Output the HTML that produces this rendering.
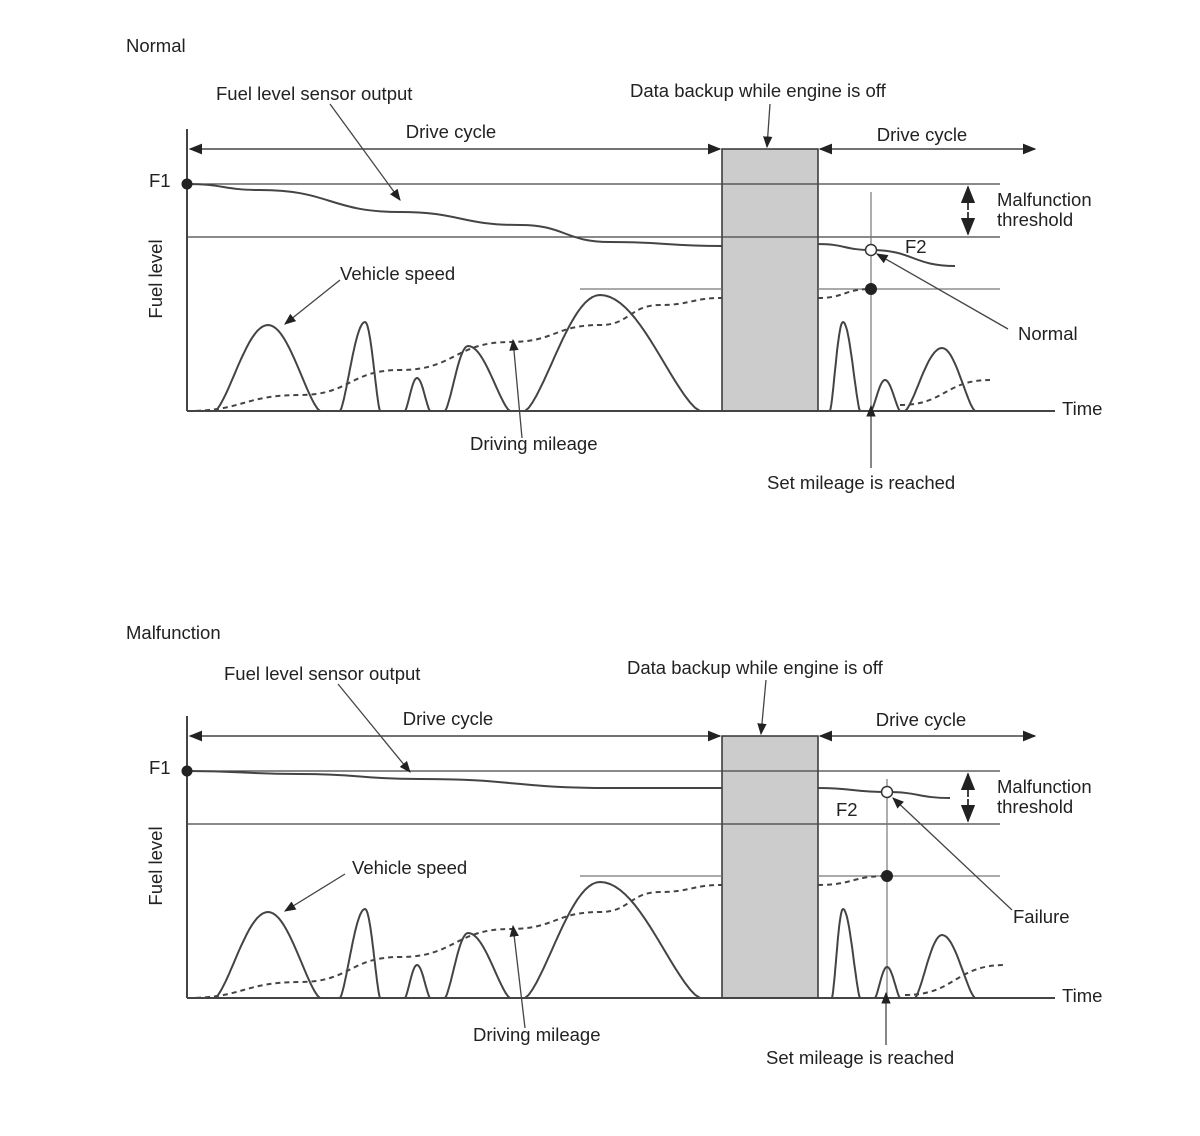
<!DOCTYPE html>
<html><head><meta charset="utf-8"><style>
body{margin:0;background:#fff}
svg text{font-family:"Liberation Sans",Arial,sans-serif;font-size:18.5px;fill:#222}
</style></head><body>
<svg id="chart" width="1200" height="1131" viewBox="0 0 1200 1131" xmlns="http://www.w3.org/2000/svg">
<defs><marker id="ah" viewBox="0 0 10 10" refX="9" refY="5" markerWidth="9" markerHeight="9" orient="auto-start-reverse"><path d="M0,1L10,5L0,9z" fill="#222"/></marker></defs>
</svg>
<script>
// time axis: offset from origin in px-units (0..868), level axis: px above baseline
const speedBumps = [[28,133,81,86],[153,193,178,89],[218,243,230,33],[258,323,281,65],[338,513,413,116]];
const speedAfterTop = [[643,673,656,89],[684,713,698,31],[718,788,755,63]];
const speedAfterBot = [[645,673,656,89],[688,713,700,31],[728,788,755,63]];
const mileageBefore = [[0,0],[113,16],[213,41],[323,69],[413,86],[473,106],[535,113]];
const mileageTop = [[631,113],[684,122]];
const mileageTopTail = [[713,6],[803,31]];
const mileageBot = [[631,113],[700,122]];
const mileageBotTail = [[718,3],[818,33]];
const fuelTop = [[0,227],[73,221],[213,199],[333,186],[423,169],[535,165]];
const fuelTopAfter = [[631,167],[684,161],[768,145]];
const fuelBot = [[0,227],[113,224],[233,219],[423,210],[535,210]];
const fuelBotAfter = [[631,210],[700,206],[763,200]];

const svg=document.getElementById('chart');
const NS='http://www.w3.org/2000/svg';
const X0=187;
function sx(t){return X0+t;}
function mk(tag,attrs,parent){const e=document.createElementNS(NS,tag);for(const k in attrs)e.setAttribute(k,attrs[k]);(parent||svg).appendChild(e);return e;}
function smooth(pts){let d='M'+pts[0][0]+','+pts[0][1];for(let i=1;i<pts.length;i++){const p0=pts[i-1],p1=pts[i];const mx=(p0[0]+p1[0])/2;d+=' C'+mx+','+p0[1]+' '+mx+','+p1[1]+' '+p1[0]+','+p1[1];}return d;}
function txt(x,y,s,name,anchor){const t=mk('text',{x:x,y:y,'text-anchor':anchor||'start'});t.textContent=s;


return t;}
function line(x1,y1,x2,y2,name,extra){const l=mk('line',Object.assign({x1:x1,y1:y1,x2:x2,y2:y2,stroke:'#444','stroke-width':1.5},extra||{}));


return l;}

function panel(base,cfg){
  const sy=v=>base-v;
  txt(126,base-359,cfg.title,cfg.id+'-title');
  const r=mk('rect',{x:sx(535),y:base-262,width:96,height:262,fill:'#ccc',stroke:'#333','stroke-width':1.5});
  
  
  line(X0,base-282,X0,base,cfg.id+'-y-axis',{'stroke-width':2});
  line(X0,base,1055,base,cfg.id+'-x-axis',{'stroke-width':2});
  line(X0,sy(227),1000,sy(227),cfg.id+'-f1-line',{'stroke-width':1.2});
  line(X0,sy(174),1000,sy(174),cfg.id+'-threshold-line',{'stroke-width':1.2});
  line(sx(393),sy(122),sx(535),sy(122),cfg.id+'-set-line-a',{'stroke-width':1.2,stroke:'#777'});
  line(sx(631),sy(122),1000,sy(122),cfg.id+'-set-line-b',{'stroke-width':1.2,stroke:'#777'});
  line(sx(cfg.vx),base-cfg.vtop,sx(cfg.vx),base,cfg.id+'-set-vertical',{'stroke-width':1.2,stroke:'#777'});
  line(X0+3,base-262,sx(535)-2,base-262,cfg.id+'-drive-cycle-arrow-1',{'marker-start':'url(#ah)','marker-end':'url(#ah)'});
  line(sx(631)+2,base-262,1035,base-262,cfg.id+'-drive-cycle-arrow-2',{'marker-start':'url(#ah)','marker-end':'url(#ah)'});
  line(968,sy(201),968,sy(224),cfg.id+'-thr-arrow-up',{'marker-end':'url(#ah)','stroke-width':2});
  line(968,sy(199),968,sy(177),cfg.id+'-thr-arrow-down',{'marker-end':'url(#ah)','stroke-width':2});
  const bumps=speedBumps.concat(cfg.after);
  bumps.forEach((b,i)=>{
    const [a,e,p,h]=b;
    let d='';
    for(let k=0;k<=40;k++){
      const u=k/40;
      const x=u<=0.5? a+(p-a)*u*2 : p+(e-p)*(u-0.5)*2;
      const y=h*Math.pow(Math.sin(Math.PI*u),1.4);
      d+=(k?'L':'M')+sx(x).toFixed(1)+','+sy(y).toFixed(1);
    }
    const pth=mk('path',{d:d,fill:'none',stroke:'#444','stroke-width':2,'stroke-linejoin':'round'});
    
    
  });
  const curves=[[mileageBefore,'mileage-1',true],[cfg.mil,'mileage-2',true],[cfg.milTail,'mileage-3',true],[cfg.fuel,'fuel-1',false],[cfg.fuelAfter,'fuel-2',false]];
  curves.forEach(c=>{
    const pts=c[0].map(p=>[sx(p[0]),sy(p[1])]);
    const o={d:smooth(pts),fill:'none',stroke:'#444','stroke-width':2};
    if(c[2])o['stroke-dasharray']='5,4';
    const pth=mk('path',o);
    
    
  });
  const f1=mk('circle',{cx:X0,cy:sy(227),r:5.5,fill:'#222'});
  
  
  const last=cfg.fuelAfter[1];
  const oc=mk('circle',{cx:sx(last[0]),cy:sy(last[1]),r:5.5,fill:'#fff',stroke:'#333','stroke-width':1.5});
  
  
  const ml=cfg.mil[1];
  const fc=mk('circle',{cx:sx(ml[0]),cy:sy(ml[1]),r:6,fill:'#222'});
  
  
  txt(149,base-224,'F1',cfg.id+'-f1-label');
  const yl=mk('text',{x:0,y:0,transform:'translate(162,'+(base-132)+') rotate(-90)','text-anchor':'middle'});
  yl.textContent='Fuel level';
  
  
  txt(1062,base+4,'Time',cfg.id+'-x-axis-title');
  txt(997,base-205,'Malfunction',cfg.id+'-thr-label-1');
  txt(997,base-185,'threshold',cfg.id+'-thr-label-2');
  cfg.labels.forEach(l=>txt(l[0],base+l[1],l[2],cfg.id+'-'+l[3],l[4]));
  cfg.ptrs.forEach((p,i)=>line(p[0],base+p[1],p[2],base+p[3],cfg.id+'-pointer-'+(i+1),{'marker-end':'url(#ah)','stroke-width':1.3}));
}
panel(411,{id:'normal',title:'Normal',vx:684,vtop:219,after:speedAfterTop,mil:mileageTop,milTail:mileageTopTail,fuel:fuelTop,fuelAfter:fuelTopAfter,
 labels:[[216,-311,'Fuel level sensor output','sensor-label'],[630,-314,'Data backup while engine is off','backup-label'],[451,-273,'Drive cycle','drive-cycle-1','middle'],[922,-270,'Drive cycle','drive-cycle-2','middle'],[905,-158,'F2','f2-label'],[340,-131,'Vehicle speed','speed-label'],[1018,-71,'Normal','result-label'],[470,39,'Driving mileage','mileage-label'],[767,78,'Set mileage is reached','set-mileage-label']],
 ptrs:[[330,-307,400,-211],[340,-131,285,-87],[770,-307,767,-264],[1008,-82,877,-157],[522,27,513,-71],[871,57,871,-5]]});
panel(998,{id:'malfunction',title:'Malfunction',vx:700,vtop:219,after:speedAfterBot,mil:mileageBot,milTail:mileageBotTail,fuel:fuelBot,fuelAfter:fuelBotAfter,
 labels:[[224,-318,'Fuel level sensor output','sensor-label'],[627,-324,'Data backup while engine is off','backup-label'],[448,-273,'Drive cycle','drive-cycle-1','middle'],[921,-272,'Drive cycle','drive-cycle-2','middle'],[836,-182,'F2','f2-label'],[352,-124,'Vehicle speed','speed-label'],[1013,-75,'Failure','result-label'],[473,43,'Driving mileage','mileage-label'],[766,66,'Set mileage is reached','set-mileage-label']],
 ptrs:[[338,-314,410,-226],[345,-124,285,-87],[766,-318,761,-264],[1012,-88,893,-200],[525,30,513,-72],[886,47,886,-5]]});
</script>
</body></html>
